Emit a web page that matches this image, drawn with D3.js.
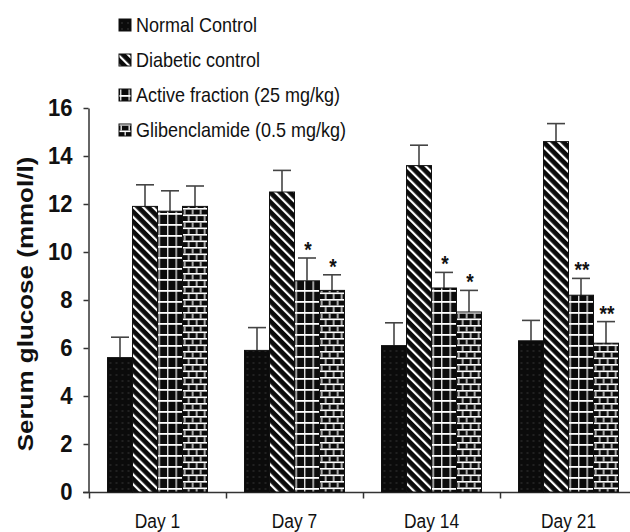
<!DOCTYPE html>
<html>
<head>
<meta charset="utf-8">
<script src="https://cdn.jsdelivr.net/npm/d3@7"></script>
<style>
  body { margin: 0; background: #fff; }
  svg { display: block; }
  text { font-family: "Liberation Sans", Arial, sans-serif; fill: #111; }
</style>
</head>
<body>
<div id="chart"></div>
<script>
// values
const days = ['Day 1', 'Day 7', 'Day 14', 'Day 21'];
const groups = ['Normal Control', 'Diabetic control', 'Active fraction (25 mg/kg)', 'Glibenclamide (0.5 mg/kg)'];
const normalMean = [5.6, 5.9, 6.1, 6.3];
const normalErr = [0.85, 0.95, 0.95, 0.85];
const diabeticMean = [11.9, 12.5, 13.6, 14.6];
const diabeticErr = [0.9, 0.9, 0.85, 0.75];
const activeMean = [11.7, 8.8, 8.5, 8.2];
const activeErr = [0.85, 0.95, 0.65, 0.7];
const glibMean = [11.9, 8.4, 7.5, 6.2];
const glibErr = [0.85, 0.65, 0.9, 0.9];
const activeSig = ['', '*', '*', '**'];
const glibSig = ['', '*', '*', '**'];
const yTicks = [0, 2, 4, 6, 8, 10, 12, 14, 16];

const means = [normalMean, diabeticMean, activeMean, glibMean];
const errs = [normalErr, diabeticErr, activeErr, glibErr];
const sigs = [null, null, activeSig, glibSig];
const patternIds = ['pNormal', 'pDiab', 'pActive', 'pGlib'];

const rows = [];
days.forEach(function (day, i) {
  groups.forEach(function (g, j) {
    rows.push({ day: day, group: g, gi: j, value: means[j][i], err: errs[j][i], sig: sigs[j] ? sigs[j][i] : '' });
  });
});

// the source figure is squeezed sideways, so horizontal text is narrowed
const squeeze = 0.87;

const W = 630, H = 532;
const svg = d3.select('#chart').append('svg').attr('width', W).attr('height', H);

// fill patterns
const defs = svg.append('defs');
const p1 = defs.append('pattern').attr('id', 'pNormal').attr('patternUnits', 'userSpaceOnUse').attr('width', 6).attr('height', 6);
p1.append('rect').attr('width', 6).attr('height', 6).attr('fill', '#0b0b0b');
p1.append('circle').attr('cx', 3).attr('cy', 3).attr('r', 0.8).attr('fill', '#3c3c3c');

const p2 = defs.append('pattern').attr('id', 'pDiab').attr('patternUnits', 'userSpaceOnUse')
  .attr('width', 7).attr('height', 7).attr('patternTransform', 'rotate(-45)');
p2.append('rect').attr('width', 7).attr('height', 7).attr('fill', '#0b0b0b');
p2.append('rect').attr('x', 0).attr('width', 2.2).attr('height', 7).attr('fill', '#fff');

const p3 = defs.append('pattern').attr('id', 'pActive').attr('patternUnits', 'userSpaceOnUse')
  .attr('width', 8.5).attr('height', 11).attr('x', 1);
p3.append('rect').attr('width', 8.5).attr('height', 11).attr('fill', '#0b0b0b');
p3.append('rect').attr('x', 0).attr('y', 0).attr('width', 1.4).attr('height', 11).attr('fill', '#ddd');
p3.append('rect').attr('x', 0).attr('y', 4).attr('width', 8.5).attr('height', 1.8).attr('fill', '#fff');

const p4 = defs.append('pattern').attr('id', 'pGlib').attr('patternUnits', 'userSpaceOnUse')
  .attr('width', 8).attr('height', 13);
p4.append('rect').attr('width', 8).attr('height', 13).attr('fill', '#0b0b0b');
p4.append('rect').attr('x', 0).attr('y', 0).attr('width', 8).attr('height', 1.6).attr('fill', '#fff');
p4.append('rect').attr('x', 0).attr('y', 6.5).attr('width', 8).attr('height', 1.6).attr('fill', '#fff');
p4.append('rect').attr('x', 1.5).attr('y', 1.6).attr('width', 1.4).attr('height', 4.9).attr('fill', '#eee');
p4.append('rect').attr('x', 5.5).attr('y', 8.1).attr('width', 1.4).attr('height', 4.9).attr('fill', '#eee');

// scales
const y = d3.scaleLinear().domain([0, 16]).range([492, 108]);
const x = d3.scaleBand().domain(days).range([89, 637]).padding(0);
const xInner = d3.scaleBand().domain(groups).range([18.5, 118.5]).padding(0);

// y axis
const yAxis = svg.append('g').attr('transform', 'translate(88.5,0)')
  .call(d3.axisLeft(y).tickValues(yTicks).tickSize(5).tickSizeOuter(0));
yAxis.select('.domain').attr('stroke', '#333').attr('stroke-width', 1.5);
yAxis.selectAll('.tick line').attr('stroke', '#333').attr('stroke-width', 1.5);
yAxis.selectAll('.tick text')
  .attr('x', 0).attr('transform', 'translate(-16,0) scale(0.92,1)')
  .attr('font-family', null).attr('font-weight', 'bold').attr('font-size', 24).attr('fill', '#111');

// x axis
const xAxis = svg.append('g').attr('transform', 'translate(0,492.5)')
  .call(d3.axisBottom(x).tickSize(0).tickPadding(0));
xAxis.select('.domain').attr('stroke', '#333').attr('stroke-width', 1.5).attr('d', 'M83,0H637');
xAxis.selectAll('.tick text')
  .attr('y', 0).attr('dy', null).attr('transform', 'translate(0,35) scale(' + squeeze + ',1)')
  .attr('font-family', null).attr('font-size', 20).attr('fill', '#111');
xAxis.selectAll('.bound').data(days).enter().append('line').attr('class', 'bound')
  .attr('x1', d => x(d) + 0.5).attr('x2', d => x(d) + 0.5).attr('y1', 0).attr('y2', 6)
  .attr('stroke', '#333').attr('stroke-width', 1.5);

// bars
const bars = svg.append('g').selectAll('g').data(rows).enter().append('g')
  .attr('transform', d => 'translate(' + (x(d.day) + xInner(d.group)) + ',0)');
const bw = xInner.bandwidth();

bars.append('line')
  .attr('x1', bw / 2).attr('x2', bw / 2)
  .attr('y1', d => y(d.value)).attr('y2', d => y(d.value + d.err))
  .attr('stroke', '#444').attr('stroke-width', 1.6);
bars.append('line')
  .attr('x1', bw / 2 - 9).attr('x2', bw / 2 + 9)
  .attr('y1', d => y(d.value + d.err)).attr('y2', d => y(d.value + d.err))
  .attr('stroke', '#444').attr('stroke-width', 1.6);

bars.append('rect')
  .attr('x', 0).attr('width', bw)
  .attr('y', d => y(d.value)).attr('height', d => y(0) - y(d.value))
  .attr('fill', d => 'url(#' + patternIds[d.gi] + ')')
  .attr('stroke', '#111').attr('stroke-width', 1);

bars.filter(d => d.sig).append('text')
  .attr('transform', d => 'translate(' + (bw / 2 + 1) + ',' + (y(d.value + d.err) - 1) + ') scale(' + squeeze + ',1)')
  .attr('text-anchor', 'middle')
  .attr('font-weight', 'bold').attr('font-size', 22)
  .text(d => d.sig);

// y title
svg.append('text')
  .attr('transform', 'translate(33,304) scale(' + squeeze + ',1) rotate(-90)')
  .attr('text-anchor', 'middle')
  .attr('font-weight', 'bold').attr('font-size', 26)
  .text('Serum glucose (mmol/l)');

// legend
const legend = svg.append('g').selectAll('g').data(groups).enter().append('g')
  .attr('transform', (d, i) => 'translate(119,' + (32 + i * 35) + ')');
legend.append('rect').attr('y', -13).attr('width', 12).attr('height', 12)
  .attr('fill', (d, i) => 'url(#' + patternIds[i] + ')').attr('stroke', '#111').attr('stroke-width', 1);
legend.append('text').attr('transform', 'translate(17,0) scale(0.9,1)')
  .attr('font-size', 20).text(d => d);
</script>
</body>
</html>
